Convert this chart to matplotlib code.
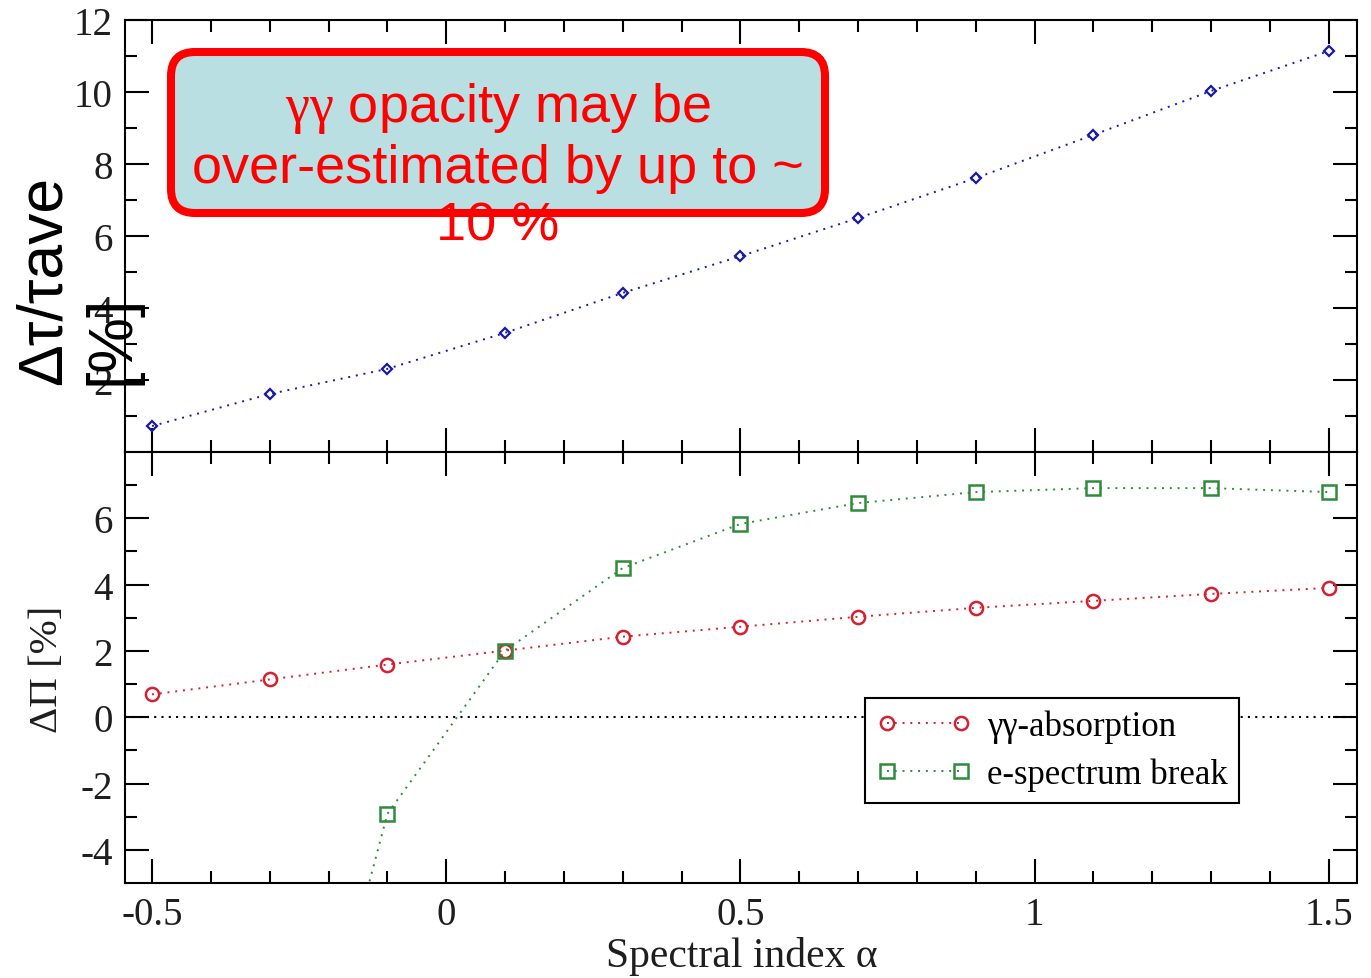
import matplotlib
matplotlib.use("Agg")
import matplotlib.pyplot as plt
from matplotlib.patches import FancyBboxPatch
from matplotlib.ticker import FixedLocator, MultipleLocator

# Spectral index values
alpha = [-0.5, -0.3, -0.1, 0.1, 0.3, 0.5, 0.7, 0.9, 1.1, 1.3, 1.5]
# Relative optical-depth change [%]
dtau = [0.72, 1.61, 2.31, 3.31, 4.42, 5.44, 6.50, 7.61, 8.81, 10.03, 11.14]
# Polarisation change for gamma-gamma absorption [%]
dpi_gg = [0.69, 1.14, 1.59, 2.01, 2.43, 2.73, 3.03, 3.30, 3.51, 3.72, 3.90]
# Polarisation change for an electron-spectrum break [%]
alpha_break = [-0.3, -0.1, 0.1, 0.3, 0.5, 0.7, 0.9, 1.1, 1.3, 1.5]
dpi_break = [-16.3, -2.91, 2.01, 4.50, 5.83, 6.46, 6.79, 6.91, 6.91, 6.79]

x_major = [-0.5, 0.0, 0.5, 1.0, 1.5]
x_tick_labels = ["-0.5", "0", "0.5", "1", "1.5"]
top_yticks = [2, 4, 6, 8, 10, 12]
bottom_yticks = [-4, -2, 0, 2, 4, 6]

plt.rcParams["font.family"] = ["Liberation Serif", "DejaVu Serif"]
plt.rcParams["axes.unicode_minus"] = False
plt.rcParams["mathtext.fontset"] = "custom"
plt.rcParams["mathtext.rm"] = "Liberation Serif"

BLUE = "#1818a8"
RED = "#d42030"
GREEN = "#2f8a3c"
TICK_COLOR = "#1e1e1e"
DOTS = (0, (1, 3))

fig = plt.figure(figsize=(13.71, 9.79), dpi=100)
ax1 = fig.add_axes([0.0912, 0.5373, 0.8986, 0.4412])
ax2 = fig.add_axes([0.0912, 0.0970, 0.8986, 0.4403], sharex=ax1)

ax1.plot(alpha, dtau, ls=DOTS, lw=1.4, color=BLUE, marker="D", ms=5,
         mfc="none", mec=BLUE, mew=1.6)

ax2.axhline(0, color="black", ls=(0, (1, 2.5)), lw=1.5, zorder=1)
ax2.plot(alpha, dpi_gg, ls=DOTS, lw=1.4, color=RED, marker="o", ms=9.5,
         mfc="none", mec=RED, mew=1.8, label="γγ-absorption")
ax2.plot(alpha_break, dpi_break, ls=DOTS, lw=1.4, color=GREEN, marker="s",
         ms=10, mfc="none", mec=GREEN, mew=1.8, label="e-spectrum break")

ax1.set_xlim(-0.546, 1.548)
ax1.set_ylim(0, 12)
ax2.set_ylim(-5, 8)

ax1.set_xticks(x_major)
ax1.xaxis.set_minor_locator(MultipleLocator(0.1))
ax2.set_xticks(x_major)
ax2.set_xticklabels(x_tick_labels)
ax1.set_yticks(top_yticks)
ax1.yaxis.set_minor_locator(FixedLocator([1, 3, 5, 7, 9, 11]))
ax2.set_yticks(bottom_yticks)
ax2.yaxis.set_minor_locator(FixedLocator([-3, -1, 1, 3, 5, 7]))

for ax in (ax1, ax2):
    ax.tick_params(which="both", direction="in", top=True, right=True,
                   width=1.5, labelsize=28, labelcolor=TICK_COLOR, pad=9)
    ax.tick_params(which="major", length=17)
    ax.tick_params(which="minor", length=8.5)
    for s in ax.spines.values():
        s.set_linewidth(1.5)
ax1.tick_params(labelbottom=False)

leg = ax2.legend(loc="upper left", bbox_to_anchor=(0.6006, 0.4292),
                 borderaxespad=0, fontsize=25, numpoints=2, handlelength=2.75,
                 handletextpad=0.43, borderpad=0.33, labelspacing=0.42,
                 fancybox=False, edgecolor="black", framealpha=1)
leg.get_frame().set_linewidth(1.5)

# Axis titles
fig.text(742 / 1371, 1 - 957 / 979, "Spectral index α", ha="center",
         va="center", fontsize=30, color=TICK_COLOR)
fig.text(48 / 1371, 1 - 669 / 979, "ΔΠ [%]", ha="center", va="center",
         rotation=90, fontsize=29.5, color=TICK_COLOR)
fig.text(78 / 1371, 1 - 280 / 979, "Δτ/τave\n[%]", ha="center", va="center",
         rotation=90, multialignment="left", fontsize=45,
         family=["Liberation Sans", "DejaVu Sans"], color="black", zorder=3)

# Call-out box
box_xy, box_w, box_h = (1.71, 7.65), 6.54, 1.61
style = "round,pad=0,rounding_size=0.24"
fig.add_artist(FancyBboxPatch(box_xy, box_w, box_h, boxstyle=style,
                              transform=fig.dpi_scale_trans,
                              facecolor="#b9dfe2", edgecolor="none", zorder=2))
fig.text(498 / 1371, 1 - 166 / 979,
         "$\\mathrm{\\gamma\\gamma}$ opacity may be\nover-estimated by up to ~\n10 %",
         ha="center", va="center", multialignment="center", color="#ff0000",
         fontsize=39, family=["Liberation Sans", "DejaVu Sans"], zorder=3)
fig.add_artist(FancyBboxPatch(box_xy, box_w, box_h, boxstyle=style,
                              transform=fig.dpi_scale_trans,
                              facecolor="none", edgecolor="#ff0000",
                              linewidth=5.8, zorder=4))

fig.savefig("out.png", dpi=100, facecolor="white")
